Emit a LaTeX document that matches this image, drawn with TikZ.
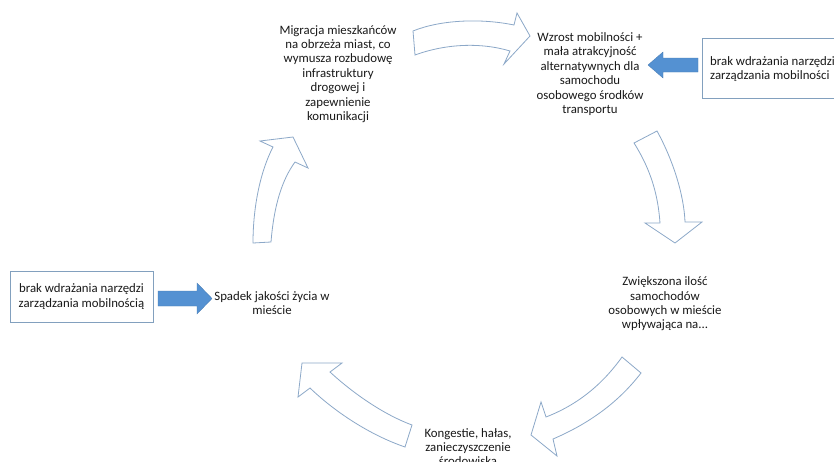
\documentclass[tikz,border=0pt]{standalone}
\usepackage{fontspec}
\setmainfont{Carlito}
\definecolor{arrowline}{RGB}{140,168,200}
\definecolor{boxline}{RGB}{130,160,190}
\definecolor{bluefill}{RGB}{84,145,210}
\definecolor{txt}{RGB}{25,25,25}
\tikzset{
  cyclearrow/.style={draw=arrowline, line width=0.8pt, fill=white, line join=miter},
  bluearrow/.style={fill=bluefill, draw=bluefill!85!black, line width=0.3pt},
  lbl/.style={align=center, inner sep=0pt, text=txt, font=\fontsize{12.8}{14.4}\selectfont},
  infobox/.style={draw=boxline, line width=0.8pt, fill=white}
}
\begin{document}
\begin{tikzpicture}[x=1pt,y=-1pt]
\useasboundingbox (0,0) rectangle (834,461);
\clip (0,0) rectangle (834,461);
\fill[white] (0,0) rectangle (834,461);

% text nodes
\node[lbl] (migr) at (338,74) {Migracja mieszkańców\\na obrzeża miast, co\\wymusza rozbudowę\\infrastruktury\\drogowej i\\zapewnienie\\komunikacji};
\node[lbl] (wzrost) at (590,74) {Wzrost mobilności +\\mała atrakcyjność\\alternatywnych dla\\samochodu\\osobowego środków\\transportu};
\node[lbl] (zwiek) at (665,304) {Zwiększona ilość\\samochodów\\osobowych w mieście\\wpływająca na...};
\node[lbl] (kong) at (468,447) {Kongestie, hałas,\\zanieczyszczenie\\środowiska};
\node[lbl] (spadek) at (272,303) {Spadek jakości życia w\\mieście};

% boxes
\draw[infobox] (10,271) rectangle (153,322);
\node[lbl] (boxl) at (81.5,296.5) {brak wdrażania narzędzi\\zarządzania mobilnością};
\draw[infobox] (702,38) rectangle (860,98);
\node[lbl, anchor=west, align=left] (boxr) at (710,69) {brak wdrażania narzędzi\\zarządzania mobilności};

% blue arrows
\draw[bluearrow] (158,291) -- (197,291) -- (197,283) -- (212,298.5) -- (197,314) -- (197,306) -- (158,306) -- cycle;
\draw[bluearrow] (698,58) -- (663,58) -- (663,52) -- (648,65) -- (663,78) -- (663,72) -- (698,72) -- cycle;

% cycle arrows
% top
\draw[cyclearrow] (413,31) .. controls (440,20) and (480,18) .. (514,25) -- (517,13) -- (530,36) -- (504,64) -- (510,51) .. controls (480,42) and (445,44) .. (415,55) -- cycle;
% right, down
\draw[cyclearrow] (634,143) -- (657,131) .. controls (673,160) and (684,195) .. (685,222) -- (702,222) -- (675,243) -- (645,223) -- (660,223) .. controls (658,195) and (651,170) .. (634,143) -- cycle;
% bottom right
\draw[cyclearrow] (622,357) -- (641,373) .. controls (618,403) and (588,424) .. (553,439) -- (557,456) -- (531,435) -- (541,402) -- (546,417) .. controls (577,405) and (602,385) .. (622,357) -- cycle;
% bottom left
\draw[cyclearrow] (412,425) .. controls (385,415) and (355,395) .. (330,372) -- (342,363) -- (302,363) -- (298,397) -- (310,388) .. controls (335,412) and (370,435) .. (405,447) -- cycle;
% left, up
\draw[cyclearrow] (253,243) -- (271,242) .. controls (274,205) and (282,180) .. (295,162) -- (308,168) -- (293,137) -- (260,141) -- (273,147) .. controls (261,170) and (253,205) .. (253,243) -- cycle;
\end{tikzpicture}
\end{document}
